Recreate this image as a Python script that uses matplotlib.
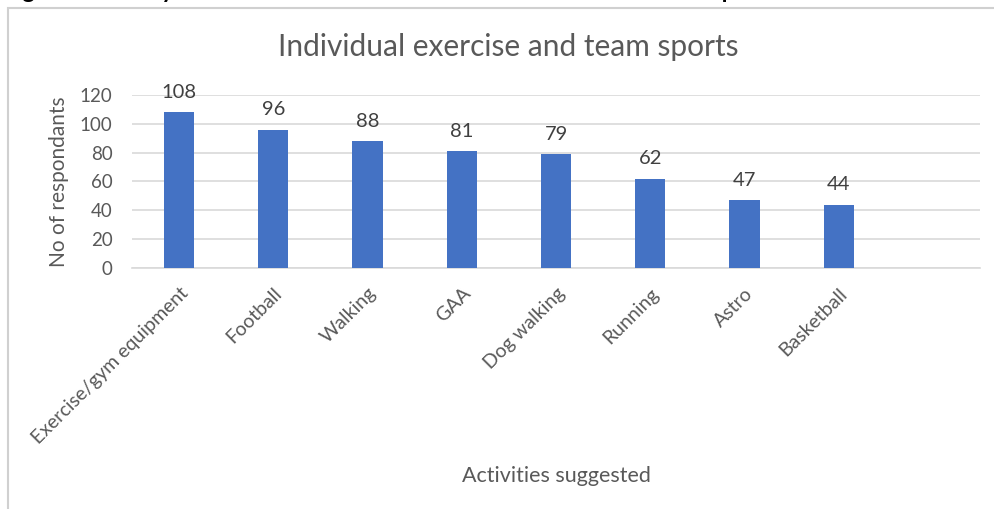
import matplotlib.pyplot as plt
from matplotlib.patches import Rectangle

plt.rcParams['font.family'] = ['Lato', 'DejaVu Sans']

activities = ['Exercise/gym equipment', 'Football', 'Walking', 'GAA', 'Dog walking',
              'Running', 'Astro', 'Basketball', '']
respondents = [108, 96, 88, 81, 79, 62, 47, 44, None]
y_ticks = [0, 20, 40, 60, 80, 100, 120]

W, H = 994, 509
fig = plt.figure(figsize=(W / 100, H / 100), dpi=100)

# caption running off the top of the page
fig.text(0.003, 1 + 2 / H, 'Figure 3: Survey consultation results - Individual exercise and team sports',
         fontsize=17, fontweight='bold', color='black', va='baseline', ha='left')

# chart frame
fig.patches.append(Rectangle((8 / W, -0.1), 1.2, 1 - 8 / H + 0.1, transform=fig.transFigure,
                             fill=False, edgecolor='#d0d0d0', linewidth=1.5))

ax = fig.add_axes([132 / W, 1 - 268 / H, (980 - 132) / W, (268 - 95) / H])

x = list(range(len(activities)))
vals = [v if v is not None else 0 for v in respondents]
bars = ax.bar(x, vals, width=0.32, color='#4472C4', zorder=3)
for xi, v in zip(x, respondents):
    if v is not None:
        ax.text(xi, v + 8, str(v), ha='center', va='bottom', fontsize=14.5, color='#404040')

ax.set_xlim(-0.5, len(activities) - 0.5)
ax.set_ylim(0, 120)
ax.set_yticks(y_ticks)
ax.set_xticks(x)
ax.set_xticklabels(activities, rotation=45, ha='right', rotation_mode='anchor',
                   fontsize=14, color='#595959')
ax.tick_params(axis='y', labelsize=13.5, labelcolor='#595959', length=0, pad=14)
ax.tick_params(axis='x', length=0, pad=12)
ax.grid(axis='y', color='#d9d9d9', linewidth=1.2, zorder=0)
for s in ['top', 'right', 'left']:
    ax.spines[s].set_visible(False)
ax.spines['bottom'].set_color('#d9d9d9')
ax.spines['bottom'].set_linewidth(1.2)

ax.set_ylabel('No of respondants', fontsize=15, color='#595959', labelpad=8)
fig.text(556 / W, 1 - 476 / H, 'Activities suggested', fontsize=15.5, color='#595959',
         ha='center', va='center')
fig.text(508 / W, 1 - 47 / H, 'Individual exercise and team sports', fontsize=21.5,
         color='#595959', ha='center', va='center')

fig.savefig('out.png', dpi=100)
